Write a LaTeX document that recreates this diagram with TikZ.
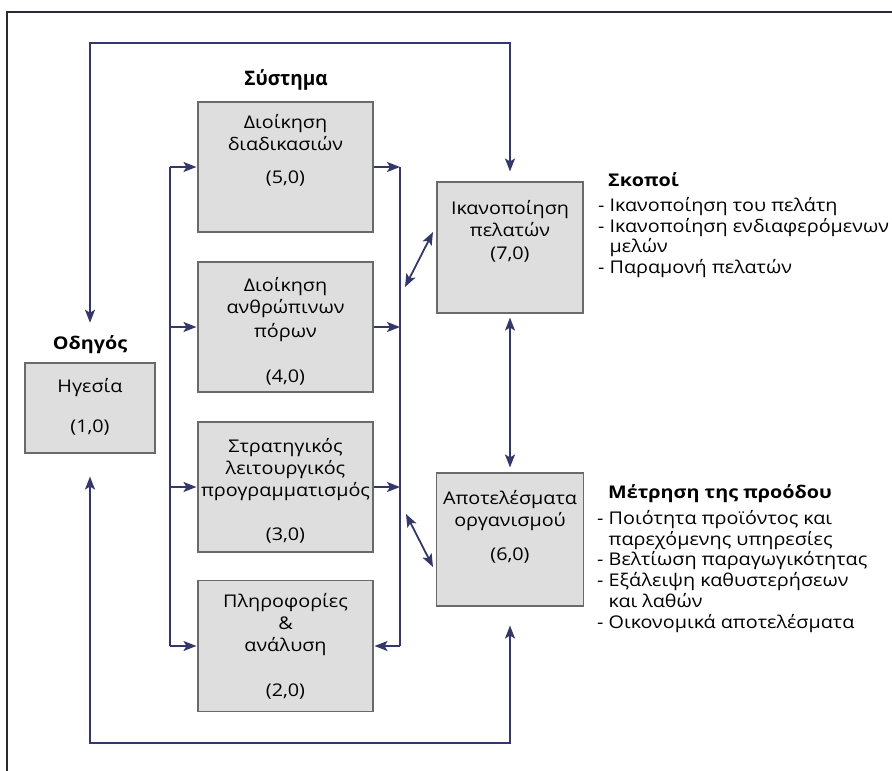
\documentclass[tikz,border=0pt]{standalone}
\usepackage{fontspec}
\setmainfont{Open Sans}[FakeStretch=1.13]
\newfontfamily\sysfont{Open Sans}[FakeStretch=0.95]
\usetikzlibrary{arrows.meta,calc}
\definecolor{navy}{HTML}{33376A}
\definecolor{boxfill}{HTML}{DEDEDE}
\definecolor{boxline}{HTML}{6A6A6A}
\definecolor{frame}{HTML}{2A2A35}
\begin{document}
\begin{tikzpicture}[x=1pt,y=-1pt,
  box/.style={draw=boxline, line width=1.1pt, fill=boxfill, inner sep=0pt},
  conn/.style={draw=navy, line width=1.8pt},
  tip/.tip={Stealth[length=13pt,width=10pt,inset=3pt]},
  arr/.style={conn, -tip},
  darr/.style={conn, tip-tip},
  boxtext/.style={font=\fontsize{17.5}{22}\selectfont, align=center, anchor=north, inner sep=0pt},
  head/.style={font=\fontsize{17.5}{20}\selectfont\bfseries, inner sep=0pt},
  listtext/.style={font=\fontsize{17.5}{20.8}\selectfont, align=left, anchor=north west, inner sep=0pt}]
\useasboundingbox (0,0) rectangle (892,771);
% outer frame
\draw[frame, line width=1.6pt] (7,771) -- (7,12) -- (892,12);

% leader
\node[head] (lead) at (90,345) {Οδηγός};
\node[box, minimum width=130pt, minimum height=90pt] (b1) at (90,408) {};
\node[boxtext] (t1) at ($(b1.north)+(0,16)$) {Ηγεσία\\[18pt](1,0)};

% system
\node[head, font=\fontsize{20}{22}\selectfont\bfseries\sysfont] (sys) at (286,80) {Σύστημα};
\node[box, minimum width=175pt, minimum height=130pt] (b5) at (285.5,167) {};
\node[box, minimum width=175pt, minimum height=130pt] (b4) at (285.5,327) {};
\node[box, minimum width=175pt, minimum height=130pt] (b3) at (285.5,487) {};
\node[box, minimum width=175pt, minimum height=131pt] (b2) at (285.5,646) {};
\node[boxtext] (t5) at ($(b5.north)+(0,13)$) {Διοίκηση\\διαδικασιών\\[11pt](5,0)};
\node[boxtext] (t4) at ($(b4.north)+(0,16)$) {Διοίκηση\\ανθρώπινων\\[2pt]πόρων\\[23pt](4,0)};
\node[boxtext] (t3) at ($(b3.north)+(0,17)$) {Στρατηγικός\\λειτουργικός\\προγραμματισμός\\[22pt](3,0)};
\node[boxtext] (t2) at ($(b2.north)+(0,13)$) {Πληροφορίες\\\&\\ανάλυση\\[23pt](2,0)};

% results
\node[box, minimum width=146pt, minimum height=131pt] (b7) at (510,247.5) {};
\node[box, minimum width=147pt, minimum height=133pt] (b6) at (510,539.5) {};
\node[boxtext] (t7) at ($(b7.north)+(0,19)$) {Ικανοποίηση\\πελατών\\[1pt](7,0)};
\node[boxtext] (t6) at ($(b6.north)+(0,18)$) {Αποτελέσματα\\οργανισμού\\[12pt](6,0)};

% right texts
\node[head, anchor=west] (goalsh) at (608,180) {Σκοποί};
\node[listtext] (goals) at (598,197) {- Ικανοποίηση του πελάτη\\- Ικανοποίηση ενδιαφερόμενων\\\phantom{- }μελών\\- Παραμονή πελατών};
\node[head, anchor=west] (meash) at (608,494) {Μέτρηση της προόδου};
\node[listtext] (meas) at (597,510) {- Ποιότητα προϊόντος και\\\phantom{- }παρεχόμενης υπηρεσίες\\- Βελτίωση παραγωγικότητας\\- Εξάλειψη καθυστερήσεων\\\phantom{- }και λαθών\\- Οικονομικά αποτελέσματα};

% system bus lines
\coordinate (lt) at (170,167);
\coordinate (lb) at (170,646);
\coordinate (rt) at (400,167);
\coordinate (rb) at (400,646);
\draw[conn] (lt) -- (lb);
\draw[conn] (rt) -- (rb);
\foreach \b in {b5,b4,b3,b2} \draw[arr, shorten >=1pt] (lt |- \b.west) -- (\b.west);
\foreach \b in {b5,b4,b3} \draw[arr] (\b.east) -- (rt |- \b.east);
\draw[arr, shorten >=1pt] (rb) -- (b2.east);

% feedback loops
\coordinate (tl) at (90,43);
\coordinate (tr) at (510,43);
\coordinate (bl) at (90,743);
\coordinate (br) at (510,743);
\draw[darr, shorten <=13pt, shorten >=10pt] (lead.north) -- (tl) -- (tr) -- (b7.north);
\draw[darr, shorten <=23pt, shorten >=19pt] (b1.south) -- (bl) -- (br) -- (b6.south);

% two-way links
\draw[darr, shorten <=4pt, shorten >=5pt] (b7.south) -- (b6.north);
\coordinate (d1a) at (405,287);
\coordinate (d1b) at (433,232);
\coordinate (d2a) at (406,514);
\coordinate (d2b) at (433,567);
\draw[darr] (d1a) -- (d1b);
\draw[darr] (d2a) -- (d2b);
\end{tikzpicture}
\end{document}
